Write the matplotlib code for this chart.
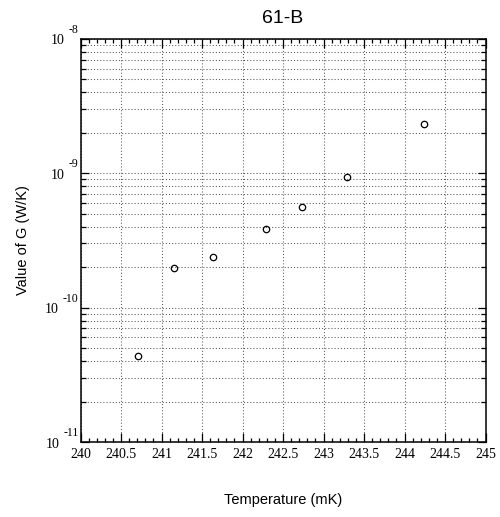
import numpy as np
import matplotlib
matplotlib.use("Agg")
import matplotlib.pyplot as plt
from matplotlib.ticker import MultipleLocator, LogLocator, NullFormatter, FuncFormatter

# data
temp_mk = [240.707, 241.157, 241.63, 242.296, 242.737, 243.284, 244.238]
g_value = [4.36e-11, 1.96e-10, 2.39e-10, 3.84e-10, 5.61e-10, 9.29e-10, 2.31e-9]
decades = [-11, -10, -9, -8]

serif = "Liberation Serif"
sans = "Liberation Sans"

fig = plt.figure(figsize=(5.0, 5.17), dpi=100)
ax = fig.add_axes([0.161, 0.145, 0.810, 0.780])

ax.plot(temp_mk, g_value, linestyle="none", marker="o", markersize=4.6,
        markerfacecolor="none", markeredgecolor="black", markeredgewidth=0.9)

ax.set_yscale("log")
ax.set_xlim(240, 245)
ax.set_ylim(10.0 ** decades[0], 10.0 ** decades[-1])

#_______________________________________________________________________
# ticks: inside, on all four sides (ROOT look)
ax.xaxis.set_major_locator(MultipleLocator(0.5))
ax.xaxis.set_minor_locator(MultipleLocator(0.1))
ax.xaxis.set_major_formatter(FuncFormatter(lambda v, p: "%g" % v))
ax.yaxis.set_major_locator(LogLocator(base=10, numticks=10))
ax.yaxis.set_minor_locator(LogLocator(base=10, subs=np.arange(2, 10), numticks=20))
ax.yaxis.set_major_formatter(NullFormatter())
ax.yaxis.set_minor_formatter(NullFormatter())

ax.tick_params(axis="both", which="both", direction="in", top=True, right=True, width=0.9)
ax.tick_params(axis="x", which="major", length=6.2, pad=4)
ax.tick_params(axis="x", which="minor", length=3.1)
ax.tick_params(axis="y", which="major", length=6)
ax.tick_params(axis="y", which="minor", length=3.6)
for lab in ax.get_xticklabels():
    lab.set_fontfamily(serif)
    lab.set_fontsize(10)

for s in ax.spines.values():
    s.set_linewidth(1.1)

# grid: dotted, x only at majors, y at every log step
ax.grid(True, axis="x", which="major", linestyle=(0, (1, 2)), color="0.35", linewidth=0.75)
ax.grid(True, axis="y", which="both", linestyle=(0, (1, 2)), color="0.35", linewidth=0.75)
ax.set_axisbelow(True)

#_______________________________________________________________________
# y tick labels drawn as "10" plus a raised exponent
fig.canvas.draw()
renderer = fig.canvas.get_renderer()
ytr = ax.get_yaxis_transform()
for d in decades:
    ex = ax.annotate("%d" % d, xy=(0, 10.0 ** d), xycoords=ytr,
                     xytext=(-2, 9), textcoords="offset pixels",
                     ha="right", va="center", fontsize=8.5, family=serif)
    w = ex.get_window_extent(renderer).width
    ax.annotate("10", xy=(0, 10.0 ** d), xycoords=ytr,
                xytext=(-2 - w - 4, -2), textcoords="offset pixels",
                ha="right", va="center", fontsize=10, family=serif)

ax.set_title("61-B", fontsize=14, family=sans, pad=11)
ax.set_xlabel("Temperature (mK)", fontsize=10.5, family=sans, labelpad=23)
ax.set_ylabel("Value of G (W/K)", fontsize=10.5, family=sans, labelpad=33)

fig.savefig("out.png", dpi=100)
